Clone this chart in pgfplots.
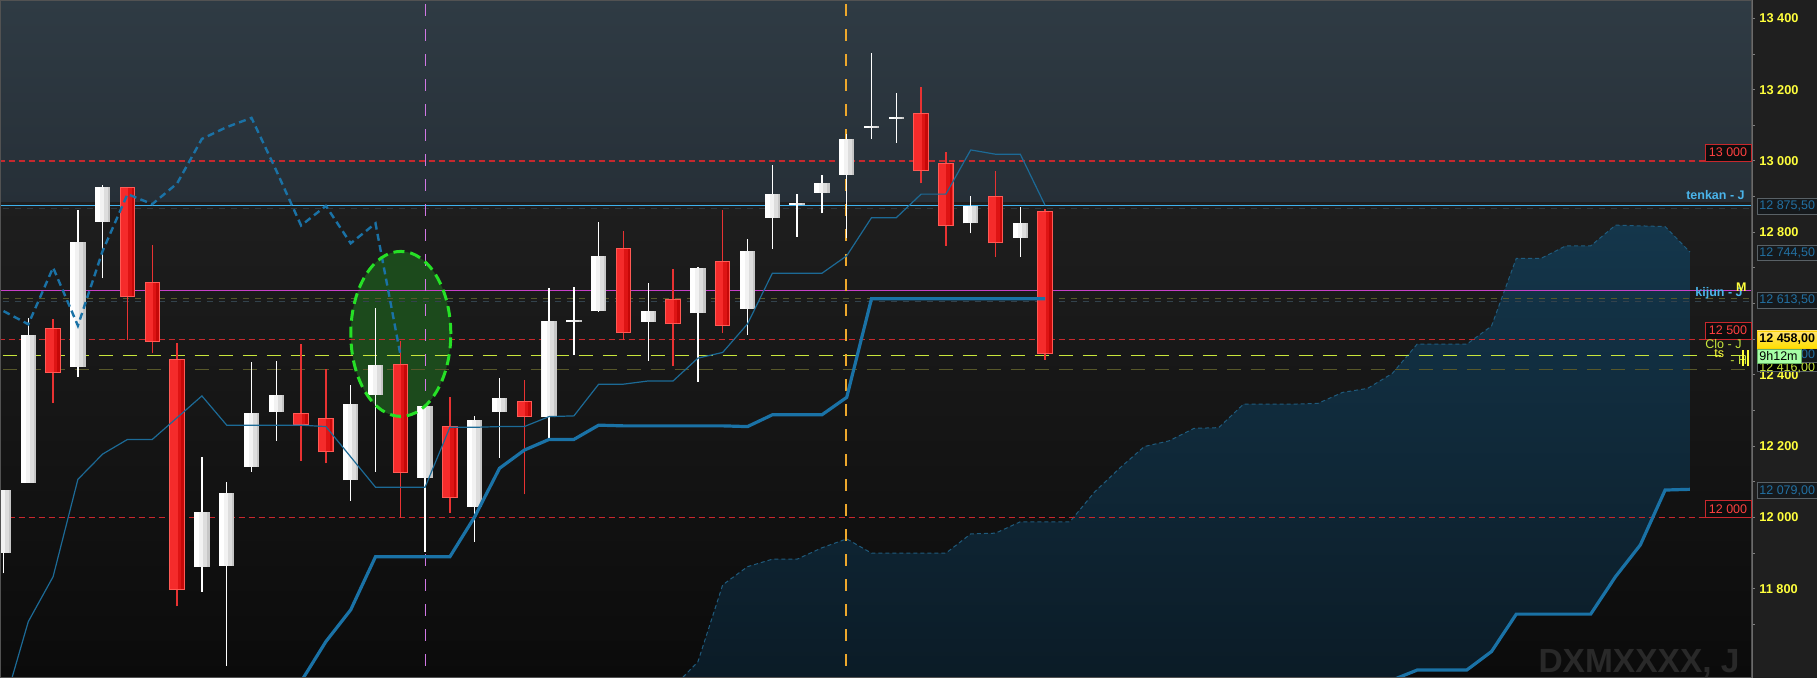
\documentclass[border=0pt]{standalone}
\usepackage{fontspec}
\setmainfont{Liberation Sans}
\usepackage{pgfplots}
\pgfplotsset{compat=1.18}
\usepackage{pgfplotstable}

\definecolor{panel}{HTML}{1F1F1F}
\definecolor{bgtop}{HTML}{2F3B44}
\definecolor{bgband}{HTML}{262F37}
\definecolor{bglow1}{HTML}{1E1E1E}
\definecolor{bglow2}{HTML}{0B0B0B}
\definecolor{cloudtop}{HTML}{14364B}
\definecolor{cloudbot}{HTML}{0A1822}
\definecolor{cloudedge}{HTML}{1F5B7D}
\definecolor{ichi}{HTML}{1A72A6}
\definecolor{ichithin}{HTML}{1C6A96}
\definecolor{redline}{HTML}{C8282D}
\definecolor{tenkanc}{HTML}{3EB2EE}
\definecolor{magh}{HTML}{C840C8}
\definecolor{magv}{HTML}{D078E4}
\definecolor{orangev}{HTML}{EEA82C}
\definecolor{closec}{HTML}{C8E63C}
\definecolor{olive}{HTML}{58582A}
\definecolor{faint1}{HTML}{30393F}
\definecolor{faint2}{HTML}{33424C}
\definecolor{wbody}{HTML}{F2F2F2}
\definecolor{wshade1}{HTML}{DDDDDD}
\definecolor{wshade2}{HTML}{C6C6C6}
\definecolor{rborder}{HTML}{FF5A55}
\definecolor{rfill1}{HTML}{F52B2B}
\definecolor{rfill2}{HTML}{DE1414}
\definecolor{rfill3}{HTML}{C60808}
\definecolor{wickred}{HTML}{E83232}
\definecolor{ellfill}{HTML}{1C4A1C}
\definecolor{ellline}{HTML}{26E026}
\definecolor{ticky}{HTML}{FFFF3C}
\definecolor{boxblue}{HTML}{2270A2}
\definecolor{boxfill}{HTML}{15191C}
\definecolor{boxedge}{HTML}{596166}
\definecolor{redtxt}{HTML}{FF4040}
\definecolor{lblblue}{HTML}{4AB4EA}

% daily candles: i = bar index, o h l c
\pgfplotstableread{
i o h l c
0 11900 12077 11843 12077
1 12098 12560 12098 12512
3 12423 12863 12395 12773
4 12830 12933 12671 12928
8 11862 12169 11792 12015
9 11865 12099 11584 12068
10 12143 12437 12128 12294
11 12296 12440 12215 12344
14 12105 12372 12047 12318
15 12344 12587 12128 12428
17 12112 12313 11904 12313
19 12030 12285 11932 12273
20 12297 12390 12168 12334
22 12281 12643 12223 12551
23 12548 12646 12456 12554
24 12579 12830 12577 12733
26 12549 12657 12440 12579
28 12573 12704 12381 12701
30 12585 12781 12512 12748
31 12841 12989 12753 12907
32 12876 12907 12788 12882
33 12911 12961 12853 12937
34 12961 13075 12783 13062
35 13092 13302 13061 13098
36 13118 13190 13051 13124
39 12825 12902 12797 12874
41 12785 12870 12732 12825
}\bull

\pgfplotstableread{
i o h l c
2 12531 12556 12321 12406
5 12928 12928 12498 12619
6 12660 12764 12461 12493
7 12445 12490 11751 11797
12 12294 12487 12159 12259
13 12278 12417 12152 12183
16 12431 12496 11998 12126
18 12257 12339 12012 12056
21 12327 12386 12065 12283
25 12755 12804 12498 12517
27 12613 12697 12425 12542
29 12720 12863 12517 12538
37 13134 13207 12937 12973
38 12994 13024 12762 12819
40 12902 12972 12732 12769
42 12860 12865 12442 12458
}\bear

\pgfplotsset{
  cbar/.style 2 args={draw=none, mark=none, forget plot,
    error bars/.cd, y dir=plus, y explicit, error mark=none,
    error bar style={line width=#1, draw=#2, solid}},
}
\newcommand\lbl{\fontsize{6.25}{7.5}\selectfont}

\begin{document}
\begin{tikzpicture}
\begin{scope}[x=0.5pt, y=0.5pt]
  \fill[panel] (0,0) rectangle (1817,678);
  \shade[top color=bgtop, bottom color=bgband] (0,475) rectangle (1752,678);
  \shade[top color=bglow1, bottom color=bglow2] (0,0) rectangle (1752,475);
\end{scope}

\begin{axis}[
  at={(0pt,0pt)}, anchor=south west,
  scale only axis, width=876pt, height=339pt,
  xmin=-0.14113, xmax=70.504, ymin=11549.8, ymax=13451.6,
  clip mode=individual,
  hide x axis,
  axis y line*=right,
  axis line style={draw=black!58, line width=0.5pt},
  scaled y ticks=false,
  ytick={11800,12000,...,13400},
  yticklabels={{11 800},{12 000},{12 200},{12 400},{12 600},{12 800},{13 000},{13 200},{13 400}},
  minor ytick={11700,11900,...,13300},
  tick align=outside,
  major tick length=1.5pt, minor tick length=1.5pt,
  tick style={draw=black!50, line width=0.5pt},
  yticklabel style={font=\fontsize{6.4}{7.5}\selectfont\bfseries, text=ticky, anchor=west, inner sep=0pt, xshift=2pt},
]

% green highlight behind everything
\fill[ellfill] (axis cs:16.02,12515) ellipse [x radius=2.016, y radius=231.4];

% kumo
\addplot[draw=none, top color=cloudtop, bottom color=cloudbot, forget plot] coordinates {
 (27,11524)(28,11595)(29,11811)(30,11862)(31,11883)(32,11883)(33,11915)(34,11940)
 (35,11900)(36,11900)(37,11900)(38,11900)(39,11954)(40,11956)(41,11988)(42,11988)
 (43,11988)(44,12072)(45,12138)(46,12199)(47,12215)(48,12250)(49,12252)(50,12318)
 (51,12318)(52,12318)(53,12320)(54,12351)(55,12362)(56,12404)(57,12486)(58,12486)
 (59,12486)(60,12537)(61,12727)(62,12727)(63,12762)(64,12762)(65,12820)(66,12818)
 (67,12816)(68,12744.5)
 (68,12079)(67,12077)(66,11923)(65,11834)(64,11729)(63,11729)(62,11729)(61,11729)
 (60,11624)(59,11572)(58,11572)(57,11572)(56,11544)(55,11400)(27,11400)
} -- cycle;
\addplot[draw=cloudedge, line width=0.5pt, dash pattern=on 2pt off 1.5pt] coordinates {
 (27,11524)(28,11595)(29,11811)(30,11862)(31,11883)(32,11883)(33,11915)(34,11940)
 (35,11900)(36,11900)(37,11900)(38,11900)(39,11954)(40,11956)(41,11988)(42,11988)
 (43,11988)(44,12072)(45,12138)(46,12199)(47,12215)(48,12250)(49,12252)(50,12318)
 (51,12318)(52,12318)(53,12320)(54,12351)(55,12362)(56,12404)(57,12486)(58,12486)
 (59,12486)(60,12537)(61,12727)(62,12727)(63,12762)(64,12762)(65,12820)(66,12818)
 (67,12816)(68,12744.5)
};

% horizontal levels
\addplot[draw=redline, line width=0.55pt, dash pattern=on 3pt off 2pt] coordinates {(-1,13000)(71,13000)};
\addplot[draw=redline, line width=0.55pt, dash pattern=on 3pt off 2pt] coordinates {(-1,12500)(71,12500)};
\addplot[draw=redline, line width=0.55pt, dash pattern=on 3pt off 2pt] coordinates {(-1,12000)(71,12000)};
\addplot[draw=faint1, line width=0.4pt, dash pattern=on 3pt off 3pt] coordinates {(-1,12868)(71,12868)};
\addplot[draw=tenkanc, line width=0.6pt] coordinates {(-1,12875.5)(71,12875.5)};
\addplot[draw=olive, line width=0.4pt, dash pattern=on 3pt off 3pt] coordinates {(-1,12614)(71,12614)};
\addplot[draw=faint2, line width=0.4pt, dash pattern=on 3pt off 3pt] coordinates {(-1,12606)(71,12606)};
\addplot[draw=magh, line width=0.6pt] coordinates {(-1,12637)(71,12637)};
\addplot[draw=closec, line width=0.7pt, dash pattern=on 7pt off 5pt] coordinates {(-1,12455)(71,12455)};
\addplot[draw=olive, line width=0.5pt, dash pattern=on 7pt off 5pt] coordinates {(-1,12416)(71,12416)};

% vertical markers
\addplot[draw=magv, line width=0.65pt, dash pattern=on 6pt off 6.5pt] coordinates {(17.01,13440)(17.01,11500)};
\addplot[draw=orangev, line width=0.65pt, dash pattern=on 6pt off 6.5pt] coordinates {(33.97,13440)(33.97,11500)};

% wicks
\addplot[cbar={0.65pt}{white}] table[x=i, y=l, y error expr=\thisrow{h}-\thisrow{l}] {\bull};
\addplot[cbar={0.65pt}{wickred}] table[x=i, y=l, y error expr=\thisrow{h}-\thisrow{l}] {\bear};
% white bodies
\addplot[cbar={7.75pt}{wbody}] table[x=i, y=o, y error expr=\thisrow{c}-\thisrow{o}] {\bull};
\addplot[cbar={2.5pt}{white}] table[x expr=\thisrow{i}-0.2, y=o, y error expr=\thisrow{c}-\thisrow{o}] {\bull};
\addplot[cbar={3.25pt}{wshade1}] table[x expr=\thisrow{i}+0.181, y=o, y error expr=\thisrow{c}-\thisrow{o}] {\bull};
\addplot[cbar={1.25pt}{wshade2}] table[x expr=\thisrow{i}+0.262, y=o, y error expr=\thisrow{c}-\thisrow{o}] {\bull};
% red bodies
\addplot[cbar={7.75pt}{rborder}] table[x=i, y=c, y error expr=\thisrow{o}-\thisrow{c}] {\bear};
\addplot[cbar={6.75pt}{rfill1}] table[x=i, y expr=\thisrow{c}+2.8, y error expr=\thisrow{o}-\thisrow{c}-5.6] {\bear};
\addplot[cbar={3pt}{rfill2}] table[x expr=\thisrow{i}+0.141, y expr=\thisrow{c}+2.8, y error expr=\thisrow{o}-\thisrow{c}-5.6] {\bear};
\addplot[cbar={1.25pt}{rfill3}] table[x expr=\thisrow{i}+0.214, y expr=\thisrow{c}+2.8, y error expr=\thisrow{o}-\thisrow{c}-5.6] {\bear};

% chikou span
\addplot[draw=ichi, line width=1.2pt, dash pattern=on 3.5pt off 2.2pt] coordinates {
 (0,12579)(1,12542)(2,12701)(3,12538)(4,12748)(5,12907)(6,12879)(7,12937)(8,13062)
 (9,13095)(10,13121)(11,12973)(12,12819)(13,12874)(14,12769)(15,12825)(16,12458)
};
% tenkan
\addplot[draw=ichithin, line width=0.6pt] coordinates {
 (0,11468)(1,11708)(2,11834)(3,12107)(4,12178)(5,12219)(6,12219)(7,12280)(8,12341)
 (9,12259)(10,12259)(11,12259)(12,12259)(13,12255)(14,12170)(15,12085)(16,12085)
 (17,12085)(18,12253)(19,12253)(20,12255)(21,12255)(22,12283)(23,12285)(24,12374)
 (25,12374)(26,12383)(27,12383)(28,12447)(29,12463)(30,12543)(31,12685)(32,12685)
 (33,12685)(34,12734)(35,12841)(36,12841)(37,12907)(38,12907)(39,13031)(40,13019)
 (41,13019)(42,12875.5)
};
% kijun
\addplot[draw=ichi, line width=1.6pt] coordinates {
 (12,11540)(13,11652)(14,11741)(15,11890)(16,11890)(17,11890)(18,11890)(19,12002)
 (20,12138)(21,12189)(22,12219)(23,12219)(24,12259)(25,12257)(26,12257)(27,12257)
 (28,12257)(29,12257)(30,12255)(31,12288)(32,12288)(33,12288)(34,12337)(35,12613.5)
 (36,12613.5)(37,12613.5)(38,12613.5)(39,12613.5)(40,12613.5)(41,12613.5)(42,12613.5)
};
% senkou B
\addplot[draw=ichi, line width=1.6pt] coordinates {
 (56,11544)(57,11572)(58,11572)(59,11572)(60,11624)(61,11729)(62,11729)(63,11729)
 (64,11729)(65,11834)(66,11923)(67,12077)(68,12079)
};

\draw[ellline, line width=1.5pt, dash pattern=on 5.5pt off 3pt] (axis cs:16.02,12515) ellipse [x radius=2.016, y radius=231.4];
\end{axis}

\begin{scope}[x=0.5pt, y=0.5pt]
  \draw[black!68, line width=0.5pt] (0.5,0.5) rectangle (1751.5,677.5);
  % watermark
  \node[anchor=base east, inner sep=0pt, text=black!84, font=\fontsize{16.75}{18}\selectfont\bfseries] at (1740,5) {DXMXXXX, J};
  % red level boxes
  \draw[redline, fill=black!95] (1705,517) rectangle (1751,534);
  \node[text=redtxt, inner sep=0pt] at (1728,525.5) {\lbl 13 000};
  \draw[redline, fill=black!95] (1705,339) rectangle (1751,356);
  \node[text=redtxt, inner sep=0pt] at (1728,347.5) {\lbl 12 500};
  \draw[redline, fill=black!95] (1705,160.5) rectangle (1751,177.5);
  \node[text=redtxt, inner sep=0pt] at (1728,169) {\lbl 12 000};
  % line captions
  \node[anchor=base east, inner sep=0pt, text=lblblue, font=\lbl\bfseries] at (1745,478) {tenkan - J};
  \node[anchor=base east, inner sep=0pt, text=lblblue, font=\lbl\bfseries] at (1743,381) {kijun - J};
  \node[anchor=base east, inner sep=0pt, text=ticky, font=\lbl\bfseries] at (1747,386) {M};
  \node[anchor=base west, inner sep=0pt, text=closec, font=\lbl] at (1705,329) {Clo - J};
  \node[anchor=base west, inner sep=0pt, text=ticky, font=\lbl] at (1714,320) {ts};
  \node[anchor=base west, inner sep=0pt, text=closec, font=\lbl] at (1730,313) {- H};
  \draw[ticky, line width=0.6pt] (1743,312)--(1743,328) (1748,312)--(1748,328);
  % price axis boxes
  \draw[boxedge, fill=boxfill] (1757,464) rectangle (1817,480);
  \node[anchor=west, inner sep=0pt, text=boxblue] at (1759,472) {\lbl 12 875,50};
  \draw[boxedge, fill=boxfill] (1757,418) rectangle (1817,433);
  \node[anchor=west, inner sep=0pt, text=boxblue] at (1759,425.5) {\lbl 12 744,50};
  \draw[boxedge, fill=boxfill] (1757,370) rectangle (1817,386);
  \node[anchor=west, inner sep=0pt, text=boxblue] at (1759,378) {\lbl 12 613,50};
  \draw[boxedge, fill=boxfill] (1757,179.7) rectangle (1817,195.3);
  \node[anchor=west, inner sep=0pt, text=boxblue] at (1759,187.5) {\lbl 12 079,00};
  \draw[boxedge, fill=black] (1757,307) rectangle (1817,317);
  \node[anchor=west, inner sep=0pt, text=closec] at (1759,310.5) {\lbl 12 416,00};
  \draw[boxedge, fill=boxfill] (1757,316) rectangle (1817,330);
  \node[anchor=west, inner sep=0pt, text=boxblue] at (1759,323) {\lbl 12 455,00};
  \shade[top color=yellow!60!orange!55!white, bottom color=yellow!75!orange, draw=yellow!70!orange] (1757,330) rectangle (1817,347);
  \node[anchor=west, inner sep=0pt, text=black, font=\lbl\bfseries] at (1759,338.5) {12 458,00};
  \draw[green!50!black!60, fill=green!35!white] (1757,315) rectangle (1801,329);
  \node[anchor=west, inner sep=0pt, text=black] at (1759,322) {\lbl 9h12m};
  \pgfresetboundingbox
  \path[use as bounding box] (0,0) rectangle (1817,678);
\end{scope}
\end{tikzpicture}
\end{document}
